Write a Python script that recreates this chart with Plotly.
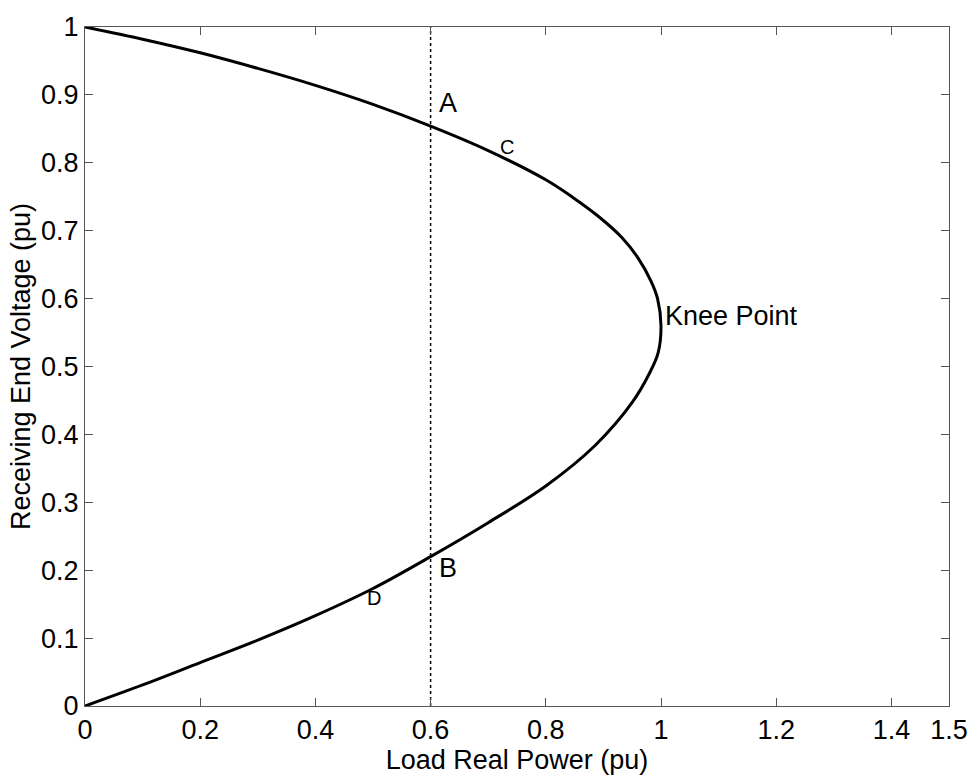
import plotly.graph_objects as go

# Load real power (pu) and receiving end voltage (pu) along the PV curve
p_upper = [0.0, 0.1, 0.2, 0.3, 0.4, 0.5, 0.6, 0.7, 0.8, 0.847, 0.89, 0.932, 0.96, 0.983, 0.994, 1.0]
v_upper = [1.0, 0.982, 0.962, 0.939, 0.914, 0.886, 0.854, 0.818, 0.775, 0.749, 0.722, 0.690, 0.660, 0.625, 0.600, 0.560]
p_lower = [1.0, 0.995, 0.98, 0.95, 0.886, 0.8, 0.7, 0.6, 0.5, 0.4, 0.3, 0.2, 0.1, 0.0]
v_lower = [0.560, 0.520, 0.490, 0.447, 0.384, 0.324, 0.270, 0.220, 0.173, 0.133, 0.097, 0.064, 0.031, 0.0]

# Constant load line
p_load = 0.6

# Point labels: text, x, y, font size, anchor
label_text = ["A", "C", "B", "D", "Knee Point"]
label_x = [0.630, 0.732, 0.630, 0.501, 1.003]
label_y = [0.888, 0.823, 0.203, 0.159, 0.575]
label_size = [27, 20, 27, 20, 27]
label_anchor = ["center", "center", "center", "center", "left"]

x_ticks = [0, 0.2, 0.4, 0.6, 0.8, 1, 1.2, 1.4, 1.5]
x_tick_text = ["0", "0.2", "0.4", "0.6", "0.8", "1", "1.2", "1.4", "1.5"]
y_ticks = [0, 0.1, 0.2, 0.3, 0.4, 0.5, 0.6, 0.7, 0.8, 0.9, 1]
y_tick_text = ["0", "0.1", "0.2", "0.3", "0.4", "0.5", "0.6", "0.7", "0.8", "0.9", "1"]

font_family = "Liberation Sans, Arial, sans-serif"

fig = go.Figure()

fig.add_trace(go.Scatter(
    x=p_upper + p_lower[1:], y=v_upper + v_lower[1:],
    mode="lines", line=dict(color="black", width=3, shape="spline", smoothing=1.0),
    showlegend=False, hoverinfo="skip",
))

fig.add_trace(go.Scatter(
    x=[p_load, p_load], y=[0, 1],
    mode="lines", line=dict(color="black", width=1.5, dash="dot"),
    showlegend=False, hoverinfo="skip",
))

for t, x, y, s, a in zip(label_text, label_x, label_y, label_size, label_anchor):
    fig.add_annotation(
        x=x, y=y, text=t, showarrow=False, xanchor=a, yanchor="middle",
        font=dict(family=font_family, size=s, color="black"),
    )

axis_common = dict(
    showline=True, linecolor="#555555", linewidth=1, mirror="ticks",
    ticks="inside", ticklen=8, tickcolor="#555555", tickwidth=1,
    showgrid=False, zeroline=False,
    tickfont=dict(family=font_family, size=27, color="black"),
)

fig.update_xaxes(
    range=[0, 1.5], tickvals=x_ticks, ticktext=x_tick_text,
    title=dict(text="Load Real Power (pu)", font=dict(family=font_family, size=27, color="black"), standoff=4),
    **axis_common,
)
fig.update_yaxes(
    range=[0, 1], tickvals=y_ticks, ticktext=y_tick_text,
    title=dict(text="Receiving End Voltage (pu)", font=dict(family=font_family, size=27, color="black"), standoff=2),
    **axis_common,
)

fig.update_layout(
    width=980, height=781,
    margin=dict(l=85, r=24, t=20, b=75),
    paper_bgcolor="white", plot_bgcolor="white",
)

fig.write_html("out.html")
